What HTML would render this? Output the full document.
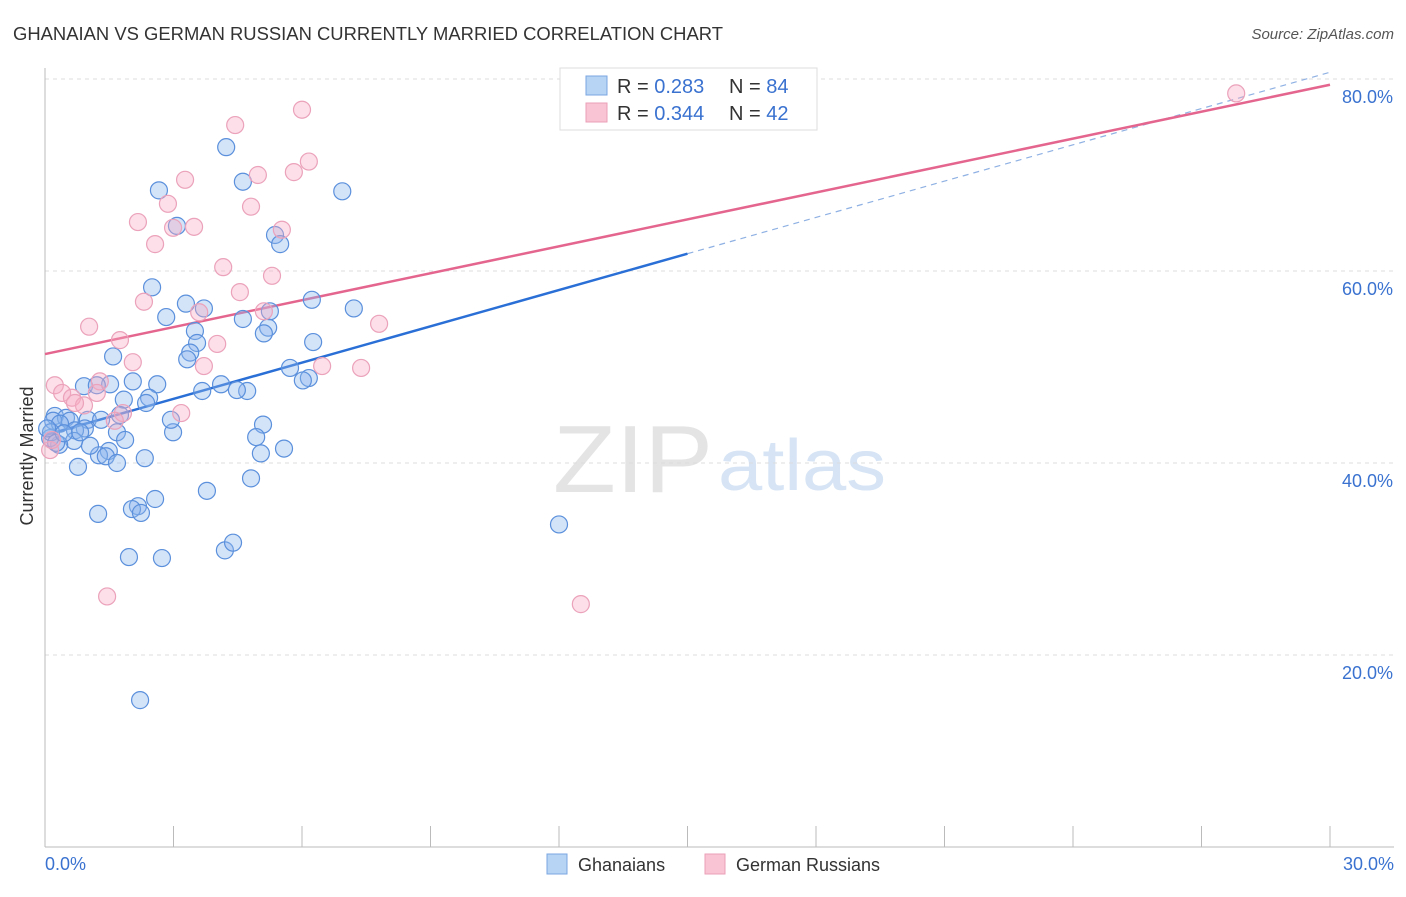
<!DOCTYPE html>
<html><head><meta charset="utf-8">
<style>
body{margin:0;background:#fff;font-family:"Liberation Sans",sans-serif;}
svg text{font-family:"Liberation Sans",sans-serif;}
</style></head>
<body>
<svg id="chart" width="1406" height="892" viewBox="0 0 1406 892" xmlns="http://www.w3.org/2000/svg">
<text x="13" y="40" font-size="18" fill="#333" textLength="710" lengthAdjust="spacingAndGlyphs">GHANAIAN VS GERMAN RUSSIAN CURRENTLY MARRIED CORRELATION CHART</text>
<text x="1394" y="39" font-size="15" fill="#555" text-anchor="end" font-style="italic">Source: ZipAtlas.com</text>
<g>
<text x="553" y="492" font-size="96" fill="#e4e4e4" font-family="Liberation Serif,serif" textLength="160" lengthAdjust="spacingAndGlyphs">ZIP</text>
<text x="718" y="490" font-size="72" fill="#d6e4f5" textLength="168" lengthAdjust="spacingAndGlyphs">atlas</text>
</g>
<g id="grid"></g>
<g id="axes"></g>
<g id="trend"></g>
<g id="points"></g>
<text transform="translate(33,456) rotate(-90)" font-size="18" fill="#333" text-anchor="middle">Currently Married</text>
<g>
<rect x="560" y="68" width="257" height="62" fill="#fff" stroke="#ddd"/>
<rect x="586" y="76" width="21" height="19" fill="#b8d4f5" stroke="#7aa6e0"/>
<rect x="586" y="103" width="21" height="19" fill="#f9c4d4" stroke="#eba0b8"/>
<text x="617" y="93" font-size="20" fill="#333">R = <tspan fill="#3a72d0">0.283</tspan></text>
<text x="729" y="93" font-size="20" fill="#333">N = <tspan fill="#3a72d0">84</tspan></text>
<text x="617" y="120" font-size="20" fill="#333">R = <tspan fill="#3a72d0">0.344</tspan></text>
<text x="729" y="120" font-size="20" fill="#333">N = <tspan fill="#3a72d0">42</tspan></text>
</g>
<g>
<rect x="547" y="854" width="20" height="20" fill="#b8d4f5" stroke="#7aa6e0"/>
<text x="578" y="871" font-size="18" fill="#333">Ghanaians</text>
<rect x="705" y="854" width="20" height="20" fill="#f9c4d4" stroke="#eba0b8"/>
<text x="736" y="871" font-size="18" fill="#333">German Russians</text>
</g>
</svg>
<script>
const blueX=[4.23,2.66,4.62,6.94,3.08,5.37,5.49,2.50,3.29,2.83,3.71,6.23,7.21,4.62,5.25,5.21,5.11,3.50,3.55,3.39,3.32,1.59,6.26,5.72,6.16,6.02,4.72,4.48,4.11,3.67,2.62,2.05,1.52,0.91,1.21,2.43,2.36,1.84,0.23,0.49,0.58,0.19,0.35,1.00,1.31,0.93,0.70,1.68,1.87,1.49,1.26,1.42,1.68,2.33,1.05,0.68,0.33,0.12,0.77,2.99,2.94,5.09,4.93,5.04,5.58,4.81,3.78,2.57,2.17,2.03,2.24,1.24,1.96,2.73,4.20,4.39,2.22,12.0,0.14,0.05,0.26,0.44,0.82,1.75];
const blueY=[72.9,68.4,69.3,68.3,64.7,63.75,62.8,58.3,56.6,55.2,56.1,57.0,56.1,55.0,55.8,54.1,53.5,53.75,52.5,51.5,50.8,51.1,52.6,49.9,48.85,48.6,47.5,47.6,48.2,47.5,48.2,48.5,48.2,48.0,48.1,46.8,46.25,46.6,44.9,44.7,44.4,44.4,44.1,44.5,44.5,43.6,43.4,43.2,42.4,41.25,40.8,40.7,40.0,40.5,41.8,42.3,41.9,42.6,39.6,43.2,44.5,44.0,42.7,41.0,41.5,38.4,37.1,36.25,35.5,35.2,34.8,34.7,30.2,30.1,30.9,31.7,15.3,33.6,43.2,43.6,42.1,43.1,43.2,45.0];
const pinkX=[4.44,6.00,6.16,5.81,3.27,4.97,2.87,2.17,3.48,2.99,4.81,5.53,2.57,4.16,5.30,4.55,2.31,3.60,5.11,1.03,7.80,4.02,1.75,2.05,3.71,6.47,7.38,0.23,0.40,1.28,1.21,0.63,0.91,0.70,1.82,3.18,1.63,1.45,12.51,27.81,0.12,0.16];
const pinkY=[75.2,76.8,71.4,70.3,69.5,70.0,67.0,65.1,64.6,64.5,66.7,64.3,62.8,60.4,59.5,57.8,56.8,55.7,55.8,54.2,54.5,52.4,52.8,50.5,50.1,50.1,49.9,48.1,47.3,48.5,47.3,46.8,46.0,46.25,45.2,45.2,44.4,26.1,25.3,78.5,41.35,42.4];
const yTicks=[20,40,60,80];
const xTickVals=[0,3,6,9,12,15,18,21,24,27,30];
const blueTrend=[42.9,61.8,80.7];
const pinkTrend=[51.35,79.4];
const NS="http://www.w3.org/2000/svg";
const sx=v=>45+v*(1285/30);
const sy=v=>847-v*9.6;
function mk(tag,attrs,parent){const e=document.createElementNS(NS,tag);for(const k in attrs)e.setAttribute(k,attrs[k]);parent.appendChild(e);return e;}
const grid=document.getElementById('grid'),axes=document.getElementById('axes'),trend=document.getElementById('trend'),pts=document.getElementById('points');
yTicks.forEach(t=>{
 const l=mk('line',{x1:45,x2:1394,y1:sy(t),y2:sy(t),stroke:'#ddd','stroke-dasharray':'4,4'},grid);
 
 
 const tx=mk('text',{x:1393,y:sy(t)+24,'font-size':18,fill:'#3a72d0','text-anchor':'end'},axes);
 tx.textContent=t.toFixed(1)+'%';
 
 
});
const gtop=mk('line',{x1:45,x2:1394,y1:sy(80),y2:sy(80),stroke:'#ddd','stroke-dasharray':'4,4'},grid);
const yax=mk('line',{x1:45,x2:45,y1:68,y2:847,stroke:'#bbb'},axes);


const xax=mk('line',{x1:45,x2:1394,y1:847,y2:847,stroke:'#bbb'},axes);


xTickVals.forEach(t=>{
 const l=mk('line',{x1:sx(t),x2:sx(t),y1:826,y2:847,stroke:'#bbb'},axes);
 
 
});
[[0,'start'],[30,'end']].forEach(([t,a])=>{
 const tx=mk('text',{x:t===0?45:1394,y:870,'font-size':18,fill:'#3a72d0','text-anchor':a},axes);
 tx.textContent=t.toFixed(1)+'%';
 
 
});
const bt=mk('line',{x1:sx(0),y1:sy(blueTrend[0]),x2:sx(15),y2:sy(blueTrend[1]),stroke:'#2a6fd6','stroke-width':2.5},trend);


const bd=mk('line',{x1:sx(15),y1:sy(blueTrend[1]),x2:sx(30),y2:sy(blueTrend[2]),stroke:'#8fb1e3','stroke-width':1.2,'stroke-dasharray':'6,5'},trend);


const pt=mk('line',{x1:sx(0),y1:sy(pinkTrend[0]),x2:sx(30),y2:sy(pinkTrend[1]),stroke:'#e4668f','stroke-width':2.5},trend);


blueX.forEach((x,i)=>{
 const c=mk('circle',{cx:sx(x),cy:sy(blueY[i]),r:8.5,fill:'rgba(140,182,236,0.38)',stroke:'#5b90dc','stroke-width':1.2},pts);
 
 
});
pinkX.forEach((x,i)=>{
 const c=mk('circle',{cx:sx(x),cy:sy(pinkY[i]),r:8.5,fill:'rgba(246,170,195,0.38)',stroke:'#eba2ba','stroke-width':1.2},pts);
 
 
});
</script>
</body></html>
